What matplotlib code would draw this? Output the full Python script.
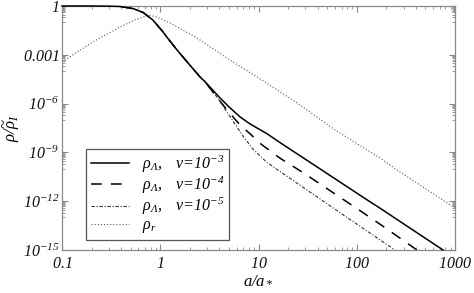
import matplotlib
matplotlib.use("Agg")
import matplotlib.pyplot as plt
from matplotlib.ticker import FixedLocator, LogLocator, NullFormatter
import numpy as np

plt.rcParams['mathtext.fontset'] = 'custom'
plt.rcParams['mathtext.rm'] = 'Liberation Serif:italic'
plt.rcParams['mathtext.it'] = 'Liberation Serif:italic'
plt.rcParams['mathtext.bf'] = 'Liberation Serif:italic:bold'
plt.rcParams['font.family'] = ['Liberation Serif', 'DejaVu Serif']

FRAME = '#8a8a8a'

# values: a/a_* and log10(rho/rho_I)
a_nu3 = [0.1, 0.2, 0.3, 0.39, 0.53, 0.67, 0.84, 1.07, 1.16, 1.48, 2.0, 2.54, 2.85,
         4.06, 5.0, 5.8, 6.5, 8.19, 12.2, 16.6, 136, 172.6, 755]
lr_nu3 = [0.0, 0.0, -0.01, -0.03, -0.16, -0.40, -0.86, -1.60, -1.89, -2.70, -3.63,
          -4.36, -4.65, -5.65, -6.20, -6.55, -6.82, -7.25, -7.85, -8.40, -12.03,
          -12.43, -15.0]

a_nu4 = [0.1, 0.2, 0.3, 0.39, 0.53, 0.67, 0.84, 1.07, 1.16, 1.48, 2.0, 2.54, 2.85,
         3.44, 4.78, 6.48, 8.19, 10.35, 16.6, 27.7, 113, 177, 410]
lr_nu4 = [0.0, 0.0, -0.01, -0.03, -0.16, -0.40, -0.86, -1.60, -1.89, -2.70, -3.63,
          -4.36, -4.65, -5.30, -6.39, -7.31, -7.85, -8.44, -9.36, -10.2, -12.66,
          -13.46, -15.0]

a_nu5 = [0.1, 0.2, 0.3, 0.39, 0.53, 0.67, 0.84, 1.07, 1.16, 1.48, 2.0, 2.54, 2.85,
         3.78, 5.13, 6.95, 8.79, 12.2, 16.6, 79.6, 136, 245]
lr_nu5 = [0.0, 0.0, -0.01, -0.03, -0.16, -0.40, -0.86, -1.60, -1.89, -2.70, -3.63,
          -4.36, -4.65, -5.60, -6.80, -8.00, -8.80, -9.62, -10.18, -13.0, -13.95,
          -15.0]

a_rad = [0.1, 0.207, 0.39, 0.55, 0.7, 0.79, 0.95, 1.26, 2.37, 5.1, 9.7, 24.7, 60,
         172.6, 257, 1000]
lr_rad = [-3.44, -2.2, -1.29, -0.86, -0.64, -0.58, -0.70, -1.04, -1.97, -3.32,
          -4.36, -5.96, -7.62, -9.34, -10.08, -12.42]

labels = [r'$\rho_\Lambda,\ \ \ \nu\!=\!10^{-3}$',
          r'$\rho_\Lambda,\ \ \ \nu\!=\!10^{-4}$',
          r'$\rho_\Lambda,\ \ \ \nu\!=\!10^{-5}$',
          r'$\rho_r$']

x_ticks = [0.1, 1, 10, 100, 1000]
x_ticklabels = ['$0.1$', '$1$', '$10$', '$100$', '$1000$']
y_ticks = [1, 1e-3, 1e-6, 1e-9, 1e-12, 1e-15]
y_ticklabels = ['$1$', '$0.001$', '$10^{-6}$', '$10^{-9}$', '$10^{-12}$', '$10^{-15}$']

fig = plt.figure(figsize=(4.74, 2.93), dpi=100)
ax = fig.add_axes([62 / 474, 43 / 293, 393 / 474, 244 / 293])

ax.plot(a_nu3, 10 ** np.array(lr_nu3), color='black', lw=1.1, label=labels[0],
        clip_on=False, zorder=3)
ax.plot(a_nu4, 10 ** np.array(lr_nu4), color='black', lw=1.1,
        linestyle=(0, (7, 6)), label=labels[1])
ax.plot(a_nu5, 10 ** np.array(lr_nu5), color='#333333', lw=0.8,
        linestyle=(0, (3, 1.6, 1, 1.6)), label=labels[2])
ax.plot(a_rad, 10 ** np.array(lr_rad), color='#555555', lw=0.8,
        linestyle=(0, (1, 1.8)), label=labels[3])

ax.set_xscale('log')
ax.set_yscale('log')
ax.set_xlim(0.1, 1000)
ax.set_ylim(1e-15, 1.0)

ax.set_xticks(x_ticks)
ax.set_xticklabels(x_ticklabels)
ax.xaxis.set_minor_locator(LogLocator(base=10, subs=np.arange(2, 10)))
ax.xaxis.set_minor_formatter(NullFormatter())

ax.set_yticks(y_ticks)
ax.set_yticklabels(y_ticklabels)
# minor ticks only in the decade just under each labelled one
minor_y = [m * 10.0 ** (-3 * k - 1) for k in range(5) for m in range(1, 10)]
ax.yaxis.set_minor_locator(FixedLocator(minor_y))
ax.yaxis.set_minor_formatter(NullFormatter())

ax.tick_params(which='both', direction='in', top=True, right=True,
               color=FRAME, labelsize=11.5, labelcolor='#111111')
ax.tick_params(which='major', length=4, width=0.8)
ax.tick_params(which='minor', length=2, width=0.6)
ax.tick_params(axis='x', pad=4.5)
ax.tick_params(axis='y', pad=2)

for s in ax.spines.values():
    s.set_color(FRAME)
    s.set_linewidth(0.9)

ax.set_xlabel(r'$a/a_*$', fontsize=12)
ax.xaxis.set_label_coords(0.5, -0.09)
ax.set_ylabel(r'$\rho/\widetilde{\rho}_I$', fontsize=12)
ax.yaxis.set_label_coords(-0.102, 0.5)

leg = ax.legend(loc='lower left', bbox_to_anchor=(24 / 393, 10 / 244),
                borderaxespad=0, fontsize=11.5, handlelength=2.4,
                handletextpad=0.8, labelspacing=0.0, borderpad=0.3,
                fancybox=False, framealpha=1, edgecolor='#555555')
leg.get_frame().set_linewidth(0.9)

fig.savefig('out.png', dpi=100)
